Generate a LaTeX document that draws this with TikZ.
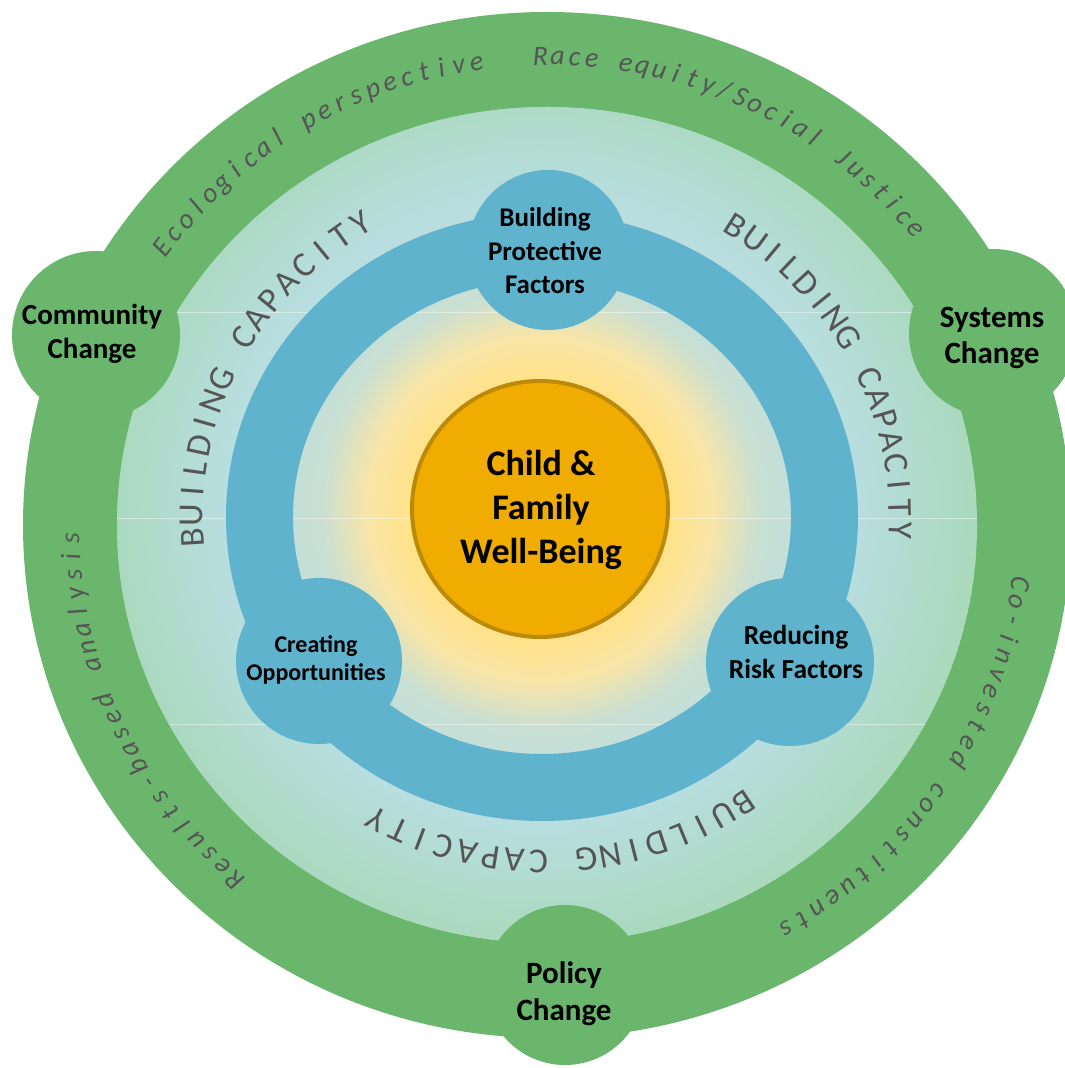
\documentclass[tikz,border=0pt]{standalone}
\usepackage{fontspec}
\setmainfont{Carlito}
\definecolor{bandgreen}{RGB}{106,182,109}
\definecolor{ringblue}{RGB}{96,179,205}
\definecolor{coreorange}{RGB}{240,172,0}
\definecolor{coreedge}{RGB}{188,138,8}
\definecolor{arcgray}{RGB}{85,85,85}
\definecolor{glowA}{RGB}{255,226,140}
\definecolor{glowB}{RGB}{248,229,168}
\definecolor{glowC}{RGB}{200,223,212}
\definecolor{glowD}{RGB}{184,222,224}
\definecolor{glowE}{RGB}{170,217,190}
\pgfdeclareradialshading{glow}{\pgfpointorigin}{color(0bp)=(glowA); color(7.4bp)=(glowA); color(9.4bp)=(glowB); color(12bp)=(glowC); color(17bp)=(glowD); color(23.4bp)=(glowE); color(25bp)=(glowE); color(50bp)=(glowE)}

\newlength\arcchw
\newcommand\arcitfont{\fontsize{28}{34}\selectfont\itshape}
\newcommand\arccapfont{\fontsize{35}{42}\selectfont}
% #1 name, #2 cx, #3 cy, #4 rx, #5 ry, #6 start angle, #7 end angle, #8 font, #9 characters
\newcommand\arcword[9]{%
  \xdef\arcsum{0}\xdef\arccnt{0}%
  \foreach \ch in {#9}{%
    \settowidth{\arcchw}{#8\ch}%
    \pgfmathsetmacro\tmpa{\arcsum+\arcchw}\xdef\arcsum{\tmpa}%
    \pgfmathtruncatemacro\tmpb{\arccnt+1}\xdef\arccnt{\tmpb}%
  }%
  \pgfmathsetmacro\arcR{(#4+#5)/2}%
  \pgfmathsetmacro\arcgap{((#6-#7)*pi/180*\arcR-\arcsum)/(\arccnt-1)}%
  \xdef\arccur{#6}%
  \foreach \ch [count=\arck] in {#9}{%
    \settowidth{\arcchw}{#8\ch}%
    \pgfmathsetmacro\arcang{\arccur-deg((\arcchw/2)/\arcR)}%
    \pgfmathsetmacro\arcrot{\arcang-90}%
    \node[arcletter, font=#8, rotate=\arcrot] (#1-\arck) at ({#2+#4*cos(\arcang)},{#3+#5*sin(\arcang)}) {\ch};
    \pgfmathsetmacro\tmpc{\arccur-deg((\arcchw+\arcgap)/\arcR)}\xdef\arccur{\tmpc}%
  }%
}

\begin{document}
\begin{tikzpicture}[x=1pt,y=1pt,
  arcletter/.style={inner sep=0pt, anchor=base, text=arcgray},
  gdisc/.style={circle, fill=bandgreen, inner sep=0pt, minimum size=168pt},
  bdisc/.style={circle, fill=ringblue, inner sep=0pt},
  lbl/.style={align=center, text=black, inner sep=0pt, font=\bfseries}]
\fill[white] (0,0) rectangle (1065,1068);
\useasboundingbox (0,0) rectangle (1065,1068);
\clip (0,0) rectangle (1065,1068);

% outer green band
\fill[bandgreen] (547,543) ellipse [x radius=524, y radius=513];

% light gradient region
\begin{scope}
  \clip (547,543) ellipse [x radius=430, y radius=418];
  \fill[glowE] (547,543) ellipse [x radius=430, y radius=418];
  \shade[shading=glow] (540,559) circle [radius=460];
  \foreach \yy in {756,550,344}
    \draw[white, opacity=0.45, line width=0.8pt] (100,\yy) -- (1000,\yy);
\end{scope}

% green discs
\node[gdisc] (ccdisc) at (96,733) {};
\node[gdisc] (scdisc) at (993,735) {};
\node[gdisc, minimum size=160pt] (pcdisc) at (565,83) {};

% blue ring
\fill[ringblue, even odd rule] (542,551) ellipse [x radius=316, y radius=304]
  (542,551) ellipse [x radius=249, y radius=237];

% blue discs
\node[bdisc, minimum size=160pt] (bpdisc) at (548,818) {};
\node[bdisc, minimum size=166pt] (codisc) at (319,407) {};
\node[bdisc, minimum size=168pt] (rrdisc) at (790,406) {};

% centre
\node[circle, fill=coreorange, draw=coreedge, line width=4pt, minimum size=256pt, inner sep=0pt] (core) at (540,559) {};

% labels
\node[lbl, font=\fontsize{36}{44}\selectfont\bfseries] (corelbl) at (541,558) {Child \&\\Family\\Well-Being};
\node[lbl, font=\fontsize{27}{33.5}\selectfont\bfseries] (bplbl) at (545,817) {Building\\Protective\\Factors};
\node[lbl, font=\fontsize{24}{28.5}\selectfont\bfseries] (colbl) at (316,408) {Creating\\Opportunities};
\node[lbl, font=\fontsize{27.5}{34}\selectfont\bfseries] (rrlbl) at (796,416) {Reducing\\Risk Factors};
\node[lbl, font=\fontsize{29}{33.5}\selectfont\bfseries] (cclbl) at (92,734) {Community\\Change};
\node[lbl, font=\fontsize{31}{36}\selectfont\bfseries] (sclbl) at (992,730) {Systems\\Change};
\node[lbl, font=\fontsize{31}{37}\selectfont\bfseries] (pclbl) at (564,74) {Policy\\Change};

% curved texts on the green band
\arcword{eco}{547}{543}{468}{460}{143.7}{98.5}{\arcitfont}{E,c,o,l,o,g,i,c,a,l,~,p,e,r,s,p,e,c,t,i,v,e}
\arcword{race}{547}{543}{468}{460}{90.8}{39.2}{\arcitfont}{R,a,c,e,~,e,q,u,i,t,y,/,S,o,c,i,a,l,~,J,u,s,t,i,c,e}
\arcword{coin}{547}{543}{468}{460}{-7.2}{-59.8}{\arcitfont}{C,o,-,i,n,v,e,s,t,e,d,~,c,o,n,s,t,i,t,u,e,n,t,s}
\arcword{rba}{547}{543}{468}{460}{229.2}{181.6}{\arcitfont}{R,e,s,u,l,t,s,-,b,a,s,e,d,~,a,n,a,l,y,s,i,s}

% BUILDING CAPACITY texts
\arcword{bcl}{546}{551}{343}{333}{183.5}{121.6}{\arccapfont}{B,U,I,L,D,I,N,G,~,C,A,P,A,C,I,T,Y}
\arcword{bcr}{546}{551}{343}{333}{57.6}{-2.2}{\arccapfont}{B,U,I,L,D,I,N,G,~,C,A,P,A,C,I,T,Y}
\arcword{bcb}{546}{551}{343}{333}{-56.1}{-118.5}{\arccapfont}{B,U,I,L,D,I,N,G,~,C,A,P,A,C,I,T,Y}
\end{tikzpicture}
\end{document}
